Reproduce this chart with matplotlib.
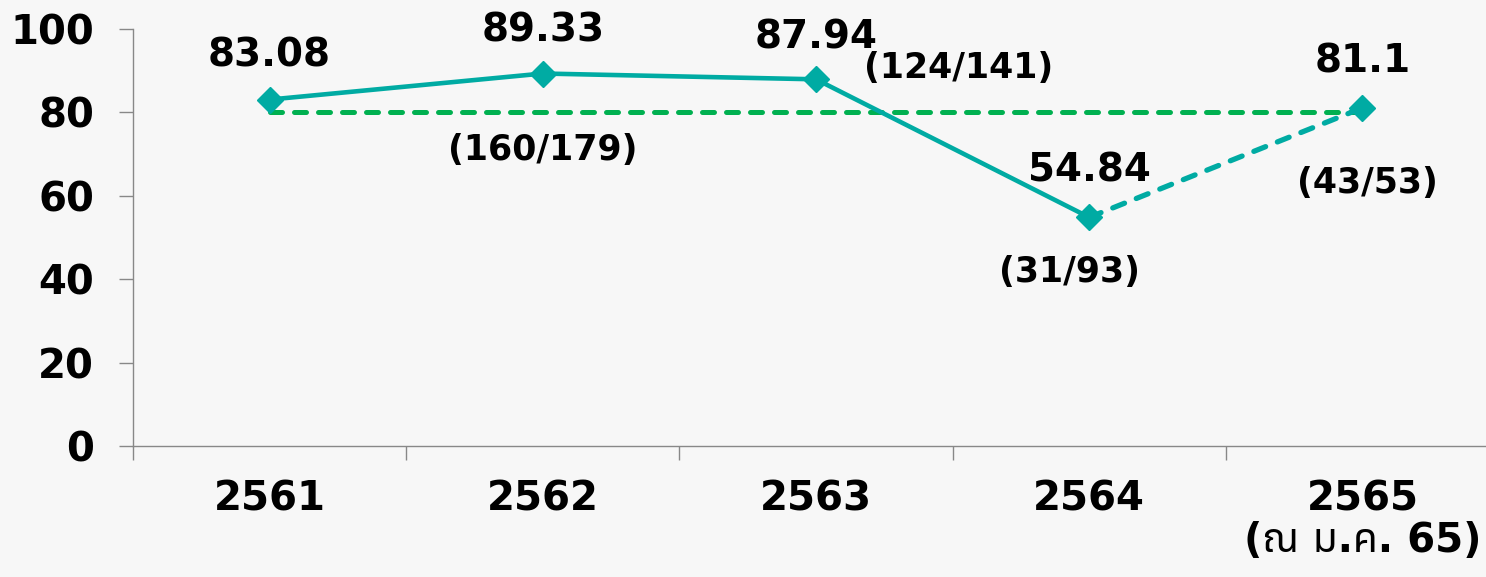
import matplotlib.pyplot as plt
import numpy as np

years = ["2561", "2562", "2563", "2564", "2565\n(ณ ม.ค. 65)"]
values = [83.08, 89.33, 87.94, 54.84, 81.1]
value_labels = ["83.08", "89.33", "87.94", "54.84", "81.1"]
target = [80, 80, 80, 80, 80]
# fraction labels: (index, text, offset in pixels)
fractions = [(1, "(160/179)", (0, -76)),
             (2, "(124/141)", (143, 11)),
             (3, "(31/93)", (-20, -55)),
             (4, "(43/53)", (5, -75))]
label_offsets = [44, 43, 42, 47, 46]

teal = '#00ABA3'
green = '#00B050'
bg = '#F7F7F7'

plt.rcParams['font.family'] = ['DejaVu Sans', 'Noto Sans Thai', 'Tahoma', 'Loma', 'Garuda']
plt.rcParams['font.weight'] = 'bold'


def main():
    fig = plt.figure(figsize=(14.86, 5.77), dpi=100, facecolor=bg)
    ax = fig.add_axes([0.0895, 0.227, 0.9193, 0.7227], facecolor=bg)

    x = np.arange(len(years))

    # target line
    ax.plot(x, target, color=green, lw=3.6, dashes=(2.4, 2.4),
            dash_capstyle='round', zorder=2)

    # actual: solid up to 2564, dashed to 2565
    ax.plot(x[:4], values[:4], color=teal, lw=3.3, marker='D', ms=13, zorder=3)
    ax.plot(x[3:], values[3:], color=teal, lw=3.8, dashes=(2.4, 2.4),
            dash_capstyle='round', zorder=3)
    ax.plot(x[4], values[4], color=teal, marker='D', ms=13, lw=0, zorder=4)

    for i, (v, lab) in enumerate(zip(values, value_labels)):
        ax.annotate(lab, (x[i], v), xytext=(0, label_offsets[i]),
                    textcoords='offset pixels', ha='center', va='center',
                    fontsize=28, fontweight='bold')

    for i, txt, off in fractions:
        ax.annotate(txt, (x[i], values[i]), xytext=off,
                    textcoords='offset pixels', ha='center', va='center',
                    fontsize=25, fontweight='bold')

    ax.set_xlim(-0.5, 4.5)
    ax.set_ylim(0, 100)
    ax.set_yticks([0, 20, 40, 60, 80, 100])
    ax.set_xticks(x)
    ax.set_xticklabels(years, fontsize=29, fontweight='bold', linespacing=1.05)
    ax.set_xticks(np.arange(-0.5, 5, 1), minor=True)
    ax.tick_params(axis='x', which='major', length=0, pad=24)
    ax.tick_params(axis='x', which='minor', length=10, width=1, color='#888888')
    ax.tick_params(axis='y', length=10, width=1, color='#888888', pad=18,
                   labelsize=29)
    for t in ax.get_yticklabels():
        t.set_fontweight('bold')

    for s in ['top', 'right']:
        ax.spines[s].set_visible(False)
    for s in ['left', 'bottom']:
        ax.spines[s].set_color('#888888')
        ax.spines[s].set_linewidth(1)

    fig.savefig('out.png', dpi=100, facecolor=bg)


if __name__ == "__main__":
    main()
